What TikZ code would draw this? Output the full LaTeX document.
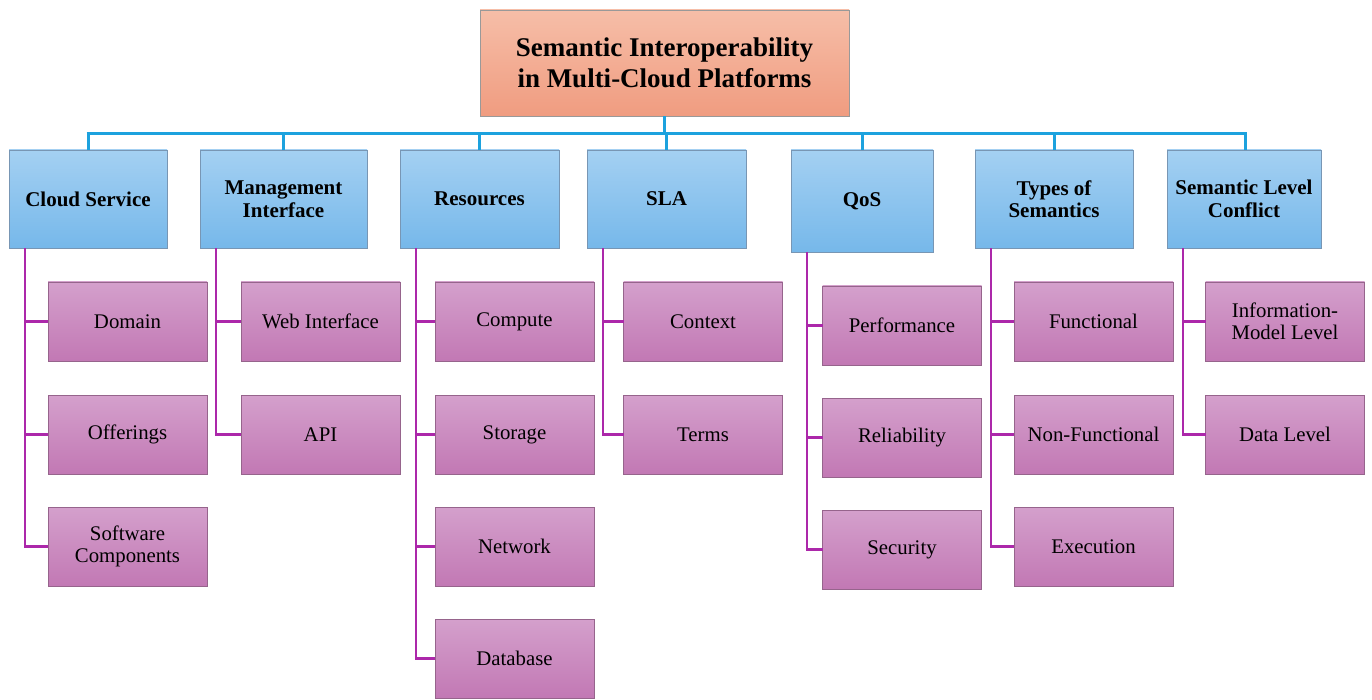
\documentclass[tikz,border=0pt]{standalone}
\usepackage{fontspec}
\setmainfont{Liberation Serif}
\tikzset{
  x=1pt, y=-1pt,
  rootbox/.style={draw=gray!80, line width=0.8pt, top color=rootTop, bottom color=rootBot,
    minimum width=369pt, minimum height=106pt, align=center,
    font=\fontsize{27}{31}\selectfont\bfseries},
  catbox/.style={draw=catEdge, line width=0.8pt, top color=catTop, bottom color=catBot,
    minimum width=158pt, minimum height=98pt, align=center, inner sep=2pt,
    font=\fontsize{21}{22.5}\selectfont\bfseries},
  itembox/.style={draw=itemEdge, line width=0.8pt, top color=itemTop, bottom color=itemBot,
    minimum width=159pt, minimum height=79pt, align=center, inner sep=2pt,
    font=\fontsize{20.8}{22.5}\selectfont},
  bus/.style={draw=busBlue, line width=3pt},
  branch/.style={draw=branchPurple, line width=2.6pt},
}
\definecolor{rootTop}{RGB}{246,190,168}
\definecolor{rootBot}{RGB}{240,156,128}
\definecolor{catTop}{RGB}{164,208,242}
\definecolor{catBot}{RGB}{118,184,234}
\definecolor{catEdge}{RGB}{120,150,180}
\definecolor{itemTop}{RGB}{212,160,204}
\definecolor{itemBot}{RGB}{194,120,180}
\definecolor{itemEdge}{RGB}{150,100,140}
\definecolor{busBlue}{RGB}{28,162,222}
\definecolor{branchPurple}{RGB}{172,40,170}
\begin{document}
\begin{tikzpicture}
\useasboundingbox (0,0) rectangle (1372,700);

% root
\node[rootbox] (root) at (664.5,63) {Semantic Interoperability\\in Multi-Cloud Platforms};

% categories
\node[catbox] (cs)  at (88,199)   {Cloud Service};
\node[catbox, minimum width=167pt] (mi) at (283.5,199) {Management\\Interface};
\node[catbox, minimum width=159pt] (res) at (479.5,199) {Resources};
\node[catbox, minimum width=159pt] (sla) at (666.5,199) {SLA};
\node[catbox, minimum width=142pt, minimum height=102pt] (qos) at (862,201) {QoS};
\node[catbox] (tos) at (1054,199) {Types of\\Semantics};
\node[catbox, minimum width=154pt] (slc) at (1244,199) {Semantic Level\\Conflict};

% items
\node[itembox] (dom) at (127.5,321.5) {Domain};
\node[itembox] (off) at (127.5,434.5) {Offerings};
\node[itembox] (swc) at (127.5,546.5) {Software\\Components};

\node[itembox] (web) at (320.5,321.5) {Web Interface};
\node[itembox] (api) at (320.5,434.5) {API};

\node[itembox] (cmp) at (514.5,321.5) {Compute};
\node[itembox] (sto) at (514.5,434.5) {Storage};
\node[itembox] (net) at (514.5,546.5) {Network};
\node[itembox] (db)  at (514.5,658.5) {Database};

\node[itembox] (ctx) at (703,321.5) {Context};
\node[itembox] (trm) at (703,434.5) {Terms};

\node[itembox] (prf) at (902,325.5) {Performance};
\node[itembox] (rel) at (902,437.5) {Reliability};
\node[itembox] (sec) at (902,549.5) {Security};

\node[itembox] (fun) at (1093.5,321.5) {Functional};
\node[itembox] (nfn) at (1093.5,434.5) {Non-Functional};
\node[itembox] (exe) at (1093.5,546.5) {Execution};

\node[itembox] (iml) at (1285,321.5) {Information-\\Model Level};
\node[itembox] (dlv) at (1285,434.5) {Data Level};

% top-level bus
\coordinate (busL) at (88,134);
\coordinate (busR) at (1245,134);
\draw[bus] ([xshift=-1.5pt]busL) -- ([xshift=1.5pt]busR);
\draw[bus] (root.south) -- (root.south |- busL);
\foreach \n/\dx in {cs/0, mi/0, res/0, sla/-0.5, qos/0, tos/0, slc/1}
  \draw[bus] ([xshift=\dx pt]\n.north) -- ([xshift=\dx pt]\n.north |- busL);

% branches from each category
\foreach \p/\last/\kids in {cs/swc/{dom,off,swc}, mi/api/{web,api}, res/db/{cmp,sto,net,db},
    sla/trm/{ctx,trm}, qos/sec/{prf,rel,sec}, tos/exe/{fun,nfn,exe}, slc/dlv/{iml,dlv}} {
  \coordinate (t\p) at ([xshift=16.5pt]\p.south west);
  \draw[branch] (t\p) |- ([xshift=0.4pt]\last.west);
  \foreach \k in \kids
    \draw[branch] ([xshift=0.4pt]\k.west) -- (\k.west -| t\p);
}
\end{tikzpicture}
\end{document}
